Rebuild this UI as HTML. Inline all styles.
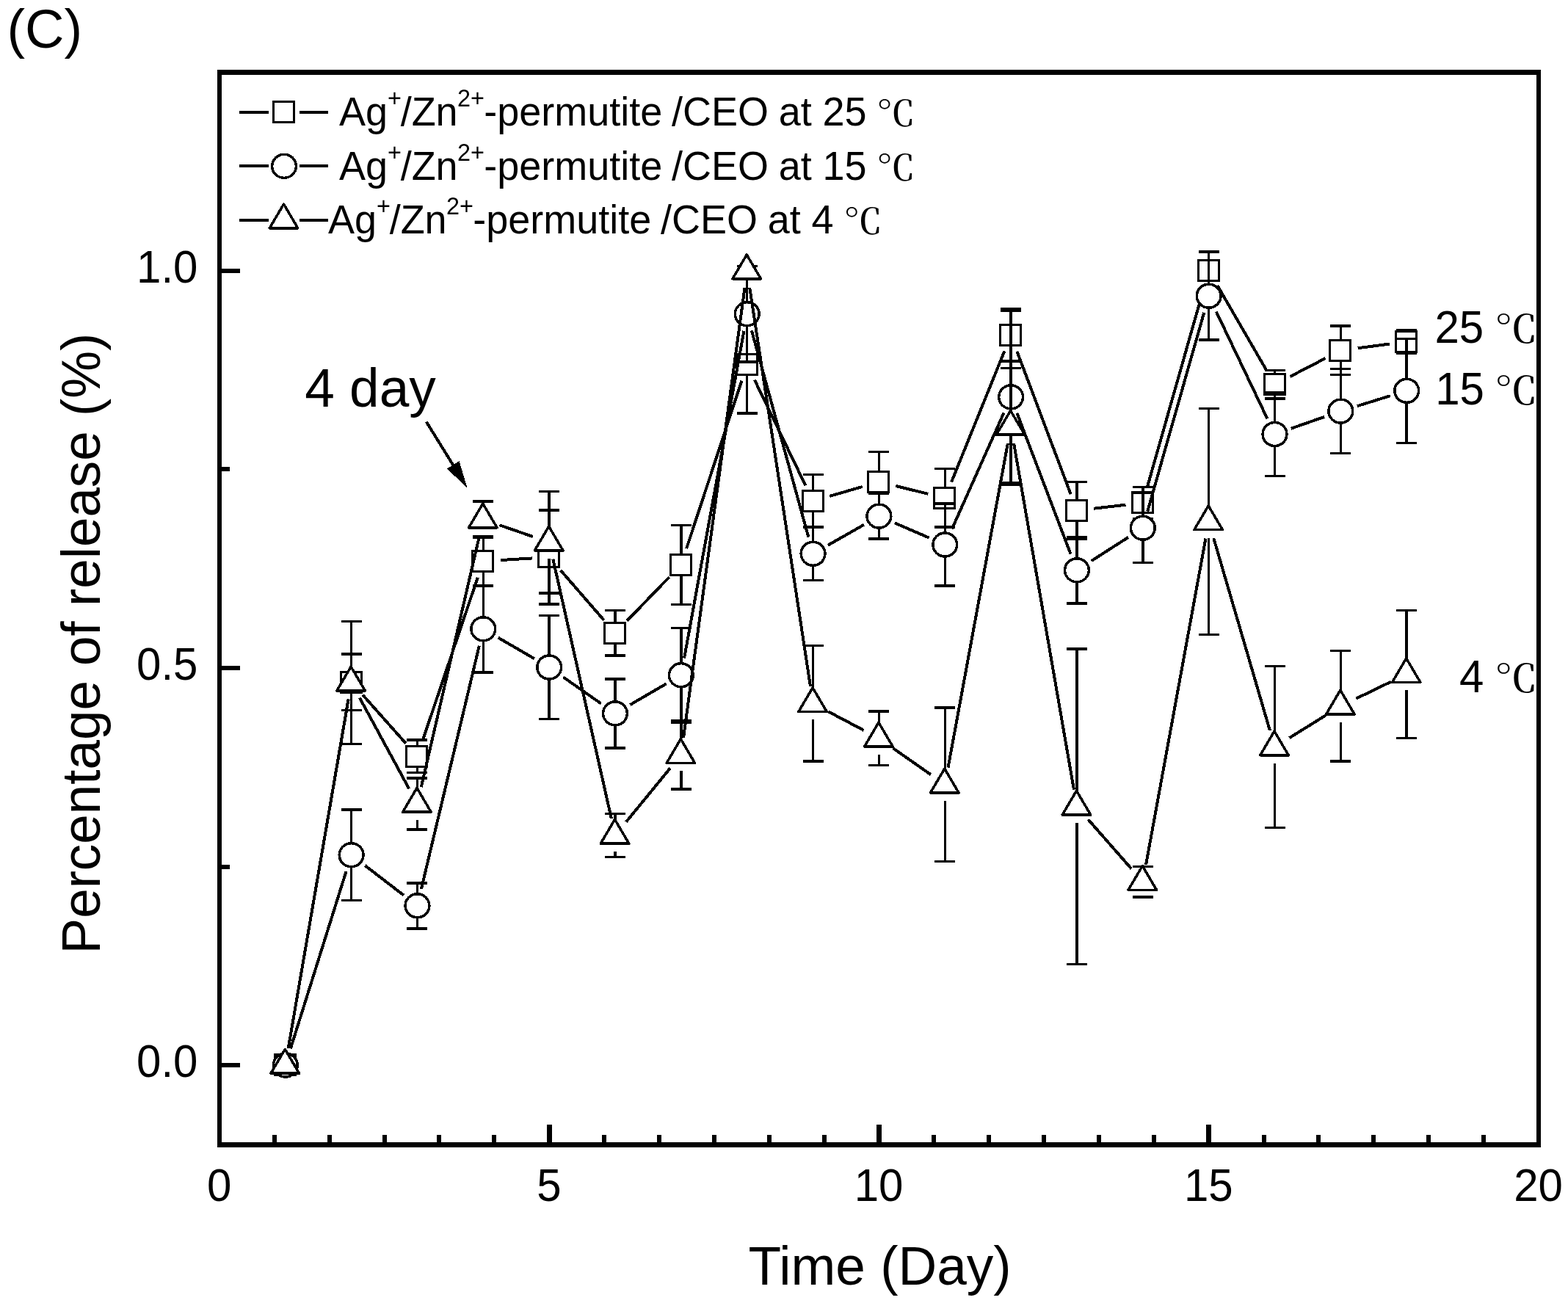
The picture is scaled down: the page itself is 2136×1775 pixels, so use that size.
<!DOCTYPE html>
<html lang="en"><head><meta charset="utf-8"><title>(C) Percentage of release vs time</title>
<style>
html,body{margin:0;padding:0;background:#fff}
body{width:2136px;height:1775px;overflow:hidden}
svg{display:block}
text{font-family:"Liberation Sans","Noto Serif CJK SC",sans-serif;fill:#000}
.dc{font-family:"Noto Serif CJK SC","Liberation Serif",serif;font-weight:500}
.lg{font-size:54px}
.tk{font-size:60px}
.big{font-size:73px}
.ytitle{font-size:72.8px}
.pan{font-size:74px}
.ln{fill:none;stroke:#000;stroke-width:4.0;stroke-linecap:butt}
.eb{fill:none;stroke:#000;stroke-width:3.5;stroke-linecap:butt}
.sy{fill:#fff;stroke:#000;stroke-width:3.5;stroke-linejoin:round}
.sy rect{stroke-linejoin:miter;stroke-width:3}
</style></head>
<body>
<svg width="2136" height="1775" viewBox="0 0 2136 1775">
<rect width="2136" height="1775" fill="#fff"/>
<g id="axes" fill="#000" shape-rendering="crispEdges"><rect x="296" y="95" width="1803" height="7"/><rect x="296" y="1556" width="1803" height="7"/><rect x="296" y="95" width="6" height="1468"/><rect x="2093" y="95" width="6" height="1468"/><rect x="371" y="1546" width="6" height="11"/><rect x="446" y="1546" width="6" height="11"/><rect x="521" y="1546" width="6" height="11"/><rect x="595" y="1546" width="6" height="11"/><rect x="670" y="1546" width="6" height="11"/><rect x="745" y="1532" width="7" height="25"/><rect x="820" y="1546" width="6" height="11"/><rect x="895" y="1546" width="6" height="11"/><rect x="970" y="1546" width="6" height="11"/><rect x="1045" y="1546" width="6" height="11"/><rect x="1120" y="1546" width="6" height="11"/><rect x="1194" y="1532" width="7" height="25"/><rect x="1269" y="1546" width="6" height="11"/><rect x="1344" y="1546" width="6" height="11"/><rect x="1419" y="1546" width="6" height="11"/><rect x="1494" y="1546" width="6" height="11"/><rect x="1569" y="1546" width="6" height="11"/><rect x="1643" y="1532" width="7" height="25"/><rect x="1719" y="1546" width="6" height="11"/><rect x="1793" y="1546" width="6" height="11"/><rect x="1868" y="1546" width="6" height="11"/><rect x="1943" y="1546" width="6" height="11"/><rect x="2018" y="1546" width="6" height="11"/><rect x="301" y="1448" width="26" height="6"/><rect x="301" y="1178" width="12" height="6"/><rect x="301" y="907" width="26" height="6"/><rect x="301" y="636" width="12" height="6"/><rect x="301" y="366" width="26" height="6"/></g>
<g id="plot" shape-rendering="crispEdges">
<g id="s25"><path class="eb" d="M478.6 891V967.4M464.6 891H492.6M464.6 967.4H492.6M568.45 1008.1V1052.3M554.45 1008.1H582.45M554.45 1052.3H582.45M658.3 730.9V798.1M644.3 730.9H672.3M644.3 798.1H672.3M748.15 695V823M734.15 695H762.15M734.15 823H762.15M838 831.7V893.1M824 831.7H852M824 893.1H852M927.85 715.5V823.3M913.85 715.5H941.85M913.85 823.3H941.85M1017.7 430V562.8M1003.7 430H1031.7M1003.7 562.8H1031.7M1107.55 646.7V718.3M1093.55 646.7H1121.55M1093.55 718.3H1121.55M1197.4 615.7V697.1M1183.4 615.7H1211.4M1183.4 697.1H1211.4M1287.25 638.7V718.1M1273.25 638.7H1301.25M1273.25 718.1H1301.25M1377.1 421V492.2M1363.1 421H1391.1M1363.1 492.2H1391.1M1466.95 656.7V734.1M1452.95 656.7H1480.95M1452.95 734.1H1480.95M1556.8 663.3V706.7M1542.8 663.3H1570.8M1542.8 706.7H1570.8M1736.5 504.7V542.9M1722.5 504.7H1750.5M1722.5 542.9H1750.5M1826.35 444.1V510.5M1812.35 444.1H1840.35M1812.35 510.5H1840.35M1916.2 449.5V481.5M1902.2 449.5H1930.2M1902.2 481.5H1930.2"/>
<path class="ln" d="M392.74 1427.84L474.61 952.36M494.22 946.76L552.83 1012.64M575.98 1007.94L650.77 786.76M681.76 763.06L724.69 760.44M763.56 776.74L822.59 844.66M854.33 845.5L911.52 786.3M935.2 747.08L1010.35 518.72M1027.92 517.56L1097.33 661.34M1130.12 675.94L1174.83 662.96M1220.23 661.99L1264.42 672.81M1296.07 656.62L1368.28 478.38M1385.38 478.59L1458.67 673.41M1490.29 692.7L1533.46 687.7M1563.22 662.39L1640.23 391.21M1658.42 388.94L1724.73 503.46M1757.37 513L1805.48 488.1M1849.65 474.24L1892.9 468.56"/>
<g class="sy"><rect x="374.5" y="1436.5" width="28" height="28"/><rect x="464.5" y="915.5" width="28" height="28"/><rect x="553.5" y="1016.5" width="28" height="28"/><rect x="643.5" y="750.5" width="28" height="28"/><rect x="733.5" y="744.5" width="28" height="28"/><rect x="823.5" y="848.5" width="28" height="28"/><rect x="913.5" y="755.5" width="28" height="28"/><rect x="1003.5" y="482.5" width="28" height="28"/><rect x="1093.5" y="668.5" width="28" height="28"/><rect x="1182.5" y="642.5" width="28" height="28"/><rect x="1272.5" y="664.5" width="28" height="28"/><rect x="1362.5" y="442.5" width="28" height="28"/><rect x="1452.5" y="681.5" width="28" height="28"/><rect x="1542.5" y="670.5" width="28" height="28"/><rect x="1632.5" y="354.5" width="28" height="28"/><rect x="1722.5" y="509.5" width="28" height="28"/><rect x="1811.5" y="463.5" width="28" height="28"/><rect x="1901.5" y="451.5" width="28" height="28"/></g></g>
<g id="s15"><path class="eb" d="M478.6 1102.8V1226.6M464.6 1102.8H492.6M464.6 1226.6H492.6M568.45 1202.8V1264.8M554.45 1202.8H582.45M554.45 1264.8H582.45M658.3 797.6V916M644.3 797.6H672.3M644.3 916H672.3M748.15 838.3V979.7M734.15 838.3H762.15M734.15 979.7H762.15M838 924.9V1018.9M824 924.9H852M824 1018.9H852M927.85 855.4V984M913.85 855.4H941.85M913.85 984H941.85M1017.7 362.5V492.9M1003.7 362.5H1031.7M1003.7 492.9H1031.7M1107.55 718.1V790.5M1093.55 718.1H1121.55M1093.55 790.5H1121.55M1197.4 672.3V733.9M1183.4 672.3H1211.4M1183.4 733.9H1211.4M1287.25 685.9V798.1M1273.25 685.9H1301.25M1273.25 798.1H1301.25M1377.1 423.7V658.1M1363.1 423.7H1391.1M1363.1 658.1H1391.1M1466.95 731.6V822M1452.95 731.6H1480.95M1452.95 822H1480.95M1556.8 671.7V766.7M1542.8 671.7H1570.8M1542.8 766.7H1570.8M1646.65 343.2V463.2M1632.65 343.2H1660.65M1632.65 463.2H1660.65M1736.5 534.5V648.5M1722.5 534.5H1750.5M1722.5 648.5H1750.5M1826.35 502.7V617.5M1812.35 502.7H1840.35M1812.35 617.5H1840.35M1916.2 461.3V603.3M1902.2 461.3H1930.2M1902.2 603.3H1930.2"/>
<path class="ln" d="M395.79 1428.58L471.56 1187.12M497.23 1179.03L549.82 1219.47M573.9 1210.94L652.85 879.66M678.62 868.61L727.83 897.19M767.4 922.48L818.75 958.42M858.32 960.09L907.53 931.51M932.07 896.58L1013.48 450.82M1023.93 450.36L1101.32 731.64M1127.97 742.67L1176.98 714.73M1218.97 712.44L1265.68 732.66M1296.84 720.54L1367.51 562.36M1385.46 562.86L1458.59 754.84M1486.73 764.12L1537.02 731.88M1563.23 696.6L1640.22 425.8M1656.77 424.41L1726.38 570.29M1758.68 583.75L1804.17 567.85M1848.8 553.15L1893.75 539.25"/>
<g class="sy"><ellipse cx="388.75" cy="1451" rx="16.4" ry="16"/><ellipse cx="478.6" cy="1164.7" rx="16.4" ry="16"/><ellipse cx="568.45" cy="1233.8" rx="16.4" ry="16"/><ellipse cx="658.3" cy="856.8" rx="16.4" ry="16"/><ellipse cx="748.15" cy="909" rx="16.4" ry="16"/><ellipse cx="838" cy="971.9" rx="16.4" ry="16"/><ellipse cx="927.85" cy="919.7" rx="16.4" ry="16"/><ellipse cx="1017.7" cy="427.7" rx="16.4" ry="16"/><ellipse cx="1107.55" cy="754.3" rx="16.4" ry="16"/><ellipse cx="1197.4" cy="703.1" rx="16.4" ry="16"/><ellipse cx="1287.25" cy="742" rx="16.4" ry="16"/><ellipse cx="1377.1" cy="540.9" rx="16.4" ry="16"/><ellipse cx="1466.95" cy="776.8" rx="16.4" ry="16"/><ellipse cx="1556.8" cy="719.2" rx="16.4" ry="16"/><ellipse cx="1646.65" cy="403.2" rx="16.4" ry="16"/><ellipse cx="1736.5" cy="591.5" rx="16.4" ry="16"/><ellipse cx="1826.35" cy="560.1" rx="16.4" ry="16"/><ellipse cx="1916.2" cy="532.3" rx="16.4" ry="16"/></g></g>
<g id="s4"><path class="eb" d="M478.6 846.3V907.8M478.6 951.8V1013.3M464.6 846.3H492.6M464.6 1013.3H492.6M568.45 1060.1V1073M568.45 1117V1129.9M554.45 1060.1H582.45M554.45 1129.9H582.45M658.3 683.2V685.6M658.3 729.6V732M644.3 683.2H672.3M644.3 732H672.3M748.15 669.3V716.7M748.15 760.7V808.1M734.15 669.3H762.15M734.15 808.1H762.15M838 1108.5V1115.9M838 1159.9V1167.3M824 1108.5H852M824 1167.3H852M927.85 981.7V1006.3M927.85 1050.3V1074.9M913.85 981.7H941.85M913.85 1074.9H941.85M1107.55 879.6V936.4M1107.55 980.4V1037.2M1093.55 879.6H1121.55M1093.55 1037.2H1121.55M1197.4 969.1V983.8M1197.4 1027.8V1042.5M1183.4 969.1H1211.4M1183.4 1042.5H1211.4M1287.25 963.8V1046.7M1287.25 1090.7V1173.6M1273.25 963.8H1301.25M1273.25 1173.6H1301.25M1377.1 501.5V559M1377.1 603V660.5M1363.1 501.5H1391.1M1363.1 660.5H1391.1M1466.95 883.9V1076.8M1466.95 1120.8V1313.7M1452.95 883.9H1480.95M1452.95 1313.7H1480.95M1542.8 1180.6H1570.8M1542.8 1221.8H1570.8M1646.65 556.5V688.5M1646.65 732.5V864.5M1632.65 556.5H1660.65M1632.65 864.5H1660.65M1736.5 907.6V995.6M1736.5 1039.6V1127.6M1722.5 907.6H1750.5M1722.5 1127.6H1750.5M1826.35 886.4V939.8M1826.35 983.8V1037.2M1812.35 886.4H1840.35M1812.35 1037.2H1840.35M1916.2 831.4V896.4M1916.2 940.4V1005.4M1902.2 831.4H1930.2M1902.2 1005.4H1930.2"/>
<path class="ln" d="M392.74 1427.84L474.61 952.96M489.83 950.44L557.22 1074.36M573.76 1072.11L652.99 730.49M680.51 715.29L725.94 731.01M753.31 761.63L832.84 1114.97M852.9 1119.73L912.95 1046.47M931.02 1005.01L1014.53 391.89M1021.24 391.83L1104.01 935.17M1128.34 969.37L1176.61 994.83M1216.65 1019.28L1268 1055.22M1291.51 1045.59L1372.84 604.11M1381.12 604.15L1462.93 1075.65M1482.45 1116.46L1541.3 1183.54M1561.03 1178.08L1642.42 733.62M1653.25 733.05L1729.9 995.05M1756.46 1005.2L1806.39 974.2M1847.51 951.58L1895.04 928.62"/>
<g class="sy"><path d="M388.25 1429.4L407.55 1462.2L368.95 1462.2Z"/><path d="M478.1 908.2L497.4 941L458.8 941Z"/><path d="M567.95 1073.4L587.25 1106.2L548.65 1106.2Z"/><path d="M657.8 686L677.1 718.8L638.5 718.8Z"/><path d="M747.65 717.1L766.95 749.9L728.35 749.9Z"/><path d="M837.5 1116.3L856.8 1149.1L818.2 1149.1Z"/><path d="M927.35 1006.7L946.65 1039.5L908.05 1039.5Z"/><path d="M1017.2 347L1036.5 379.8L997.9 379.8Z"/><path d="M1107.05 936.8L1126.35 969.6L1087.75 969.6Z"/><path d="M1196.9 984.2L1216.2 1017L1177.6 1017Z"/><path d="M1286.75 1047.1L1306.05 1079.9L1267.45 1079.9Z"/><path d="M1376.6 559.4L1395.9 592.2L1357.3 592.2Z"/><path d="M1466.45 1077.2L1485.75 1110L1447.15 1110Z"/><path d="M1556.3 1179.6L1575.6 1212.4L1537 1212.4Z"/><path d="M1646.15 688.9L1665.45 721.7L1626.85 721.7Z"/><path d="M1736 996L1755.3 1028.8L1716.7 1028.8Z"/><path d="M1825.85 940.2L1845.15 973L1806.55 973Z"/><path d="M1915.7 896.8L1935 929.6L1896.4 929.6Z"/></g></g>
</g>
<g id="legend">
<g shape-rendering="crispEdges"><path class="ln" d="M326 152.8H366M408 152.8H447"/><g class="sy"><rect x="372.5" y="138.5" width="28" height="28"/></g></g><text class="lg" transform="translate(462 170.8) scale(1 1.02)">Ag<tspan font-size="32.4" dy="-25">+</tspan><tspan dy="25" dx="-1.3">/Zn</tspan><tspan font-size="32.4" dy="-25" dx="-0.6">2+</tspan><tspan dy="25" dx="-0.8">-permutite </tspan><tspan dx="-2.3">/CEO </tspan><tspan dx="-1.2">at </tspan><tspan dx="-0.2">25</tspan></text><text class="dc" font-size="54" transform="translate(1194.1 170.8) scale(0.98 0.865)">℃</text>
<g shape-rendering="crispEdges"><path class="ln" d="M326 226.3H366M408 226.3H447"/><g class="sy"><ellipse cx="387" cy="226.3" rx="16.4" ry="16"/></g></g><text class="lg" transform="translate(462 244.8) scale(1 1.02)">Ag<tspan font-size="32.4" dy="-25">+</tspan><tspan dy="25" dx="-1.3">/Zn</tspan><tspan font-size="32.4" dy="-25" dx="-0.6">2+</tspan><tspan dy="25" dx="-0.8">-permutite </tspan><tspan dx="-2.3">/CEO </tspan><tspan dx="-1.2">at </tspan><tspan dx="-0.2">15</tspan></text><text class="dc" font-size="54" transform="translate(1194.1 244.8) scale(0.98 0.865)">℃</text>
<g shape-rendering="crispEdges"><path class="ln" d="M326 299.6H366M408 299.6H447"/><g class="sy"><path d="M386.5 278L405.8 310.8L367.2 310.8Z"/></g></g><text class="lg" transform="translate(447 317.8) scale(1 1.02)">Ag<tspan font-size="32.4" dy="-25">+</tspan><tspan dy="25" dx="-1.3">/Zn</tspan><tspan font-size="32.4" dy="-25" dx="-0.6">2+</tspan><tspan dy="25" dx="-0.8">-permutite </tspan><tspan dx="-2.3">/CEO </tspan><tspan dx="-1.2">at </tspan><tspan dx="-0.2">4</tspan></text><text class="dc" font-size="54" transform="translate(1149.3 317.8) scale(0.98 0.865)">℃</text>
</g>
<g id="note"><path class="ln" shape-rendering="crispEdges" d="M580.8 574.6L620 638"/><path d="M636.6 665L609 638.4L625.6 628.2Z" fill="#000" shape-rendering="crispEdges"/><text class="big" transform="translate(415.2 553.6) scale(1 1.02)">4 day</text></g>
<g id="yticks"><text class="tk" transform="translate(269.5 384.6) scale(1 1.04)" text-anchor="end">1.0</text><text class="tk" transform="translate(269.5 925.8) scale(1 1.04)" text-anchor="end">0.5</text><text class="tk" transform="translate(269.5 1466.6) scale(1 1.04)" text-anchor="end">0.0</text></g>
<g id="xticks"><text class="tk" transform="translate(298.6 1636.2) scale(1 1.04)" text-anchor="middle">0</text><text class="tk" transform="translate(747.85 1636.2) scale(1 1.04)" text-anchor="middle">5</text><text class="tk" transform="translate(1197.1 1636.2) scale(1 1.04)" text-anchor="middle">10</text><text class="tk" transform="translate(1646.35 1636.2) scale(1 1.04)" text-anchor="middle">15</text><text class="tk" transform="translate(2095.6 1636.2) scale(1 1.04)" text-anchor="middle">20</text></g>
<g id="curvelabels"><text class="tk" transform="translate(1954.4 466.6) scale(1 1.04)">25</text><text class="dc" font-size="60" transform="translate(2035.9 466.6) scale(0.98 0.865)">℃</text><text class="tk" transform="translate(1955.2 550.7) scale(1 1.04)">15</text><text class="dc" font-size="60" transform="translate(2035.9 550.7) scale(0.98 0.865)">℃</text><text class="tk" transform="translate(1988 942.7) scale(1 1.04)">4</text><text class="dc" font-size="60" transform="translate(2035.9 942.7) scale(0.98 0.865)">℃</text></g>
<text class="big" transform="translate(1019.4 1750) scale(1 1.02)">Time (Day)</text>
<text class="ytitle" transform="translate(135.6 1299.4) rotate(-90) scale(1 1.02)">Percentage of release (%)</text>
<text class="pan" x="9.4" y="65.4">(C)</text>
</svg>
</body></html>
